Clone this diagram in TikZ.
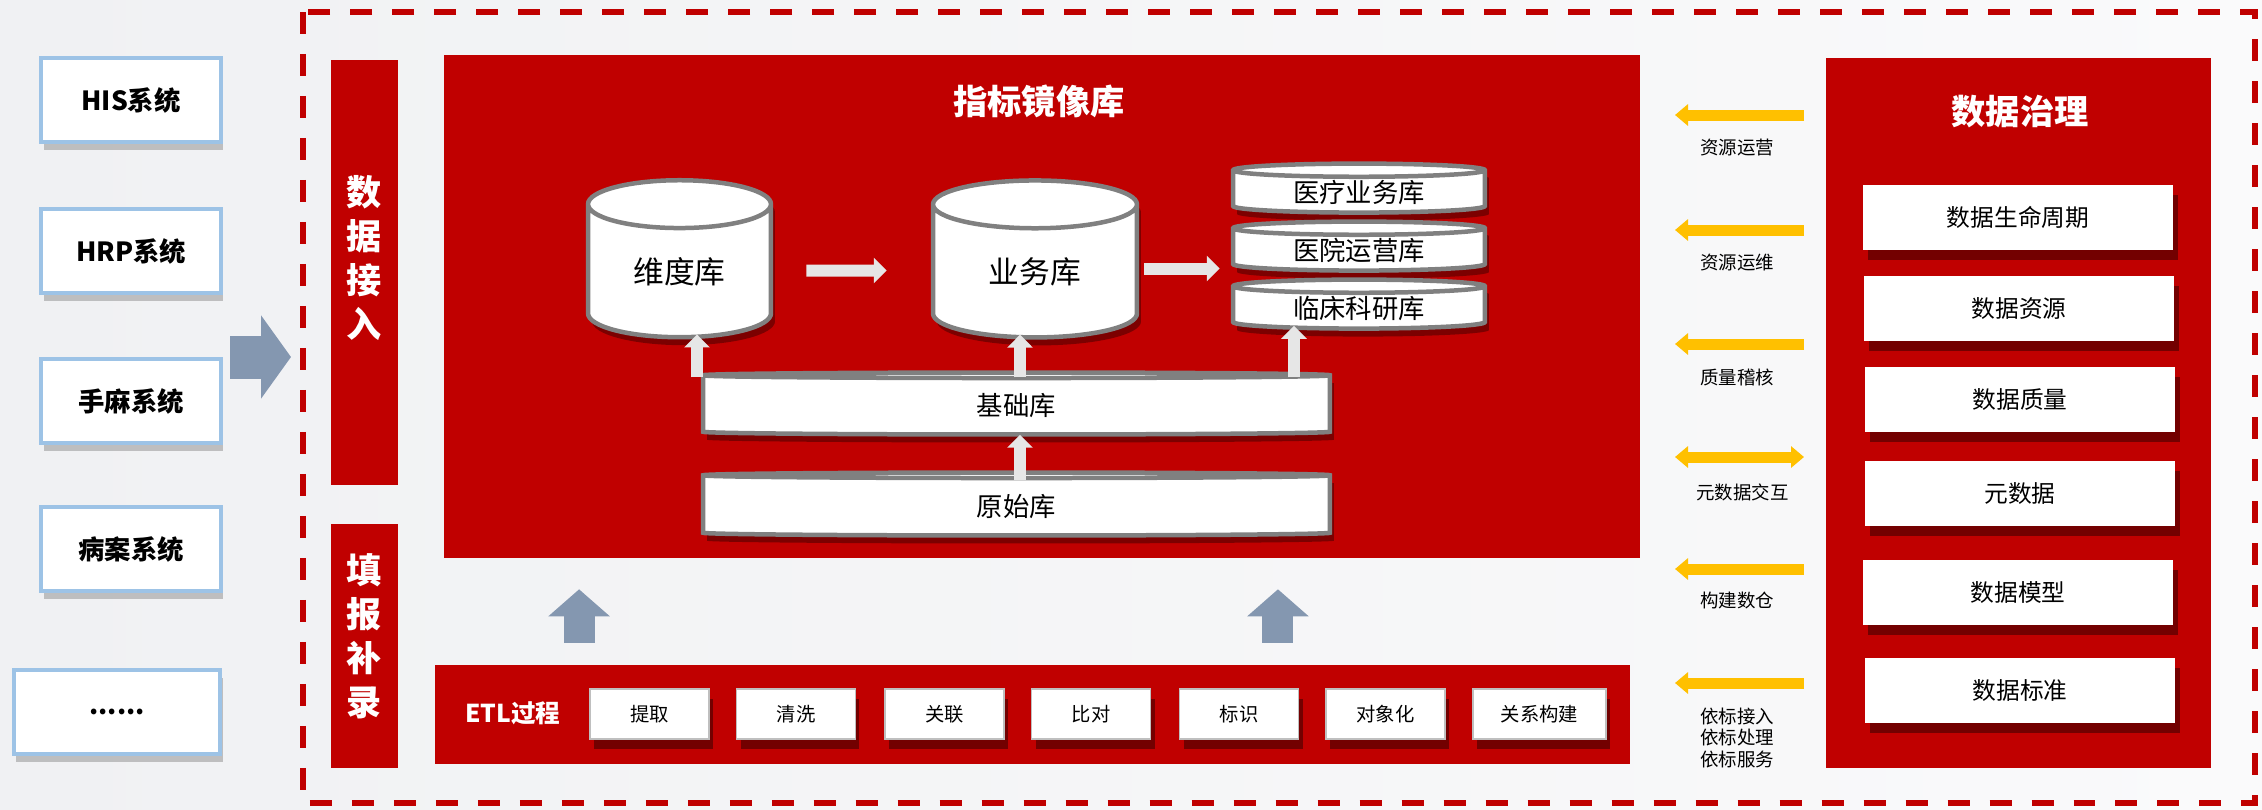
\documentclass[tikz,border=0pt]{standalone}
\usepackage{fontspec}
\setmainfont{Noto Sans CJK SC}
\usetikzlibrary{arrows.meta,shapes.geometric,shadows}

\definecolor{zred}{HTML}{C00000}
\definecolor{srcblue}{HTML}{9DC3E6}
\definecolor{slate}{HTML}{8497B0}
\definecolor{paleg}{HTML}{E6E6E6}
\definecolor{rimg}{HTML}{808080}
\definecolor{zyellow}{HTML}{FFC000}
\definecolor{bgleft}{HTML}{F0F1F3}
\definecolor{bgright}{HTML}{FAFAFB}

\tikzset{
  srcbox/.style={draw=srcblue,line width=0.08cm,fill=white,minimum width=3.6cm,minimum height=1.68cm,
    font=\fontsize{15pt}{18pt}\selectfont\bfseries,
    drop shadow={shadow xshift=0.05cm,shadow yshift=-0.16cm,fill=black!45,opacity=0.5}},
  redpanel/.style={fill=zred},
  vtext/.style={text=white,align=center,font=\fontsize{20pt}{25pt}\selectfont\bfseries},
  paneltitle/.style={text=white,font=\fontsize{19.5pt}{22pt}\selectfont\bfseries},
  cyl/.style={shape=cylinder,shape border rotate=90,aspect=0.46,draw=rimg,line width=0.09cm,fill=white,
    font=\fontsize{17.5pt}{20pt}\selectfont,
    drop shadow={shadow xshift=0.08cm,shadow yshift=-0.16cm,fill=black,opacity=0.35}},
  disk/.style={shape=cylinder,shape border rotate=90,draw=rimg,line width=0.09cm,fill=white,
    font=\fontsize{15pt}{18pt}\selectfont,inner sep=0pt,
    drop shadow={shadow xshift=0.08cm,shadow yshift=-0.16cm,fill=black,opacity=0.35}},
  govbox/.style={fill=white,minimum width=6.2cm,minimum height=1.3cm,
    font=\fontsize{13.5pt}{16pt}\selectfont,
    drop shadow={shadow xshift=0.1cm,shadow yshift=-0.2cm,fill=black,opacity=0.4}},
  stepbox/.style={fill=white,draw=black!25,line width=0.03cm,minimum width=2.38cm,minimum height=1.0cm,
    font=\fontsize{11pt}{12pt}\selectfont,
    drop shadow={shadow xshift=0.08cm,shadow yshift=-0.2cm,fill=black,opacity=0.4}},
  tag/.style={anchor=west,align=left,font=\fontsize{10.5pt}{12.5pt}\selectfont},
  lightarrow/.style={draw=paleg,line width=0.24cm,-{Triangle[width=0.5cm,length=0.26cm]}},
  bigarrow/.style={draw=slate,line width=0.86cm,-{Triangle[width=1.64cm,length=0.6cm]}},
  uparrow/.style={draw=slate,line width=0.62cm,-{Triangle[width=1.2cm,length=0.54cm]}},
  yarrow/.style={draw=zyellow,line width=0.22cm,-{Triangle[width=0.42cm,length=0.26cm]}}
}

\begin{document}
\begin{tikzpicture}[x=0.02cm,y=-0.02cm]
  \useasboundingbox (0,0) rectangle (2262,809);
  \fill[left color=bgleft,right color=bgright] (0,0) rectangle (2262,809);

  % source systems
  \node[srcbox] (his) at (131,100) {HIS系统};
  \node[srcbox] (hrp) at (131,251) {HRP系统};
  \node[srcbox] (ssm) at (131,401) {手麻系统};
  \node[srcbox] (bas) at (131,549) {病案系统};
  \node[srcbox,minimum width=4.14cm] (etc) at (117,712) {......};

  \coordinate (ina) at (230,357);
  \coordinate (inb) at (291,357);
  \draw[bigarrow] (ina) -- (inb);

  % dashed frame
  \draw[zred,line width=0.12cm,dash pattern=on 0.44cm off 0.4cm] (303,12) rectangle (2255,803);

  \node[redpanel,minimum width=1.34cm,minimum height=8.5cm] (jieru) at (364.5,272.5) {};
  \node[vtext] (jieruT) at (364.5,258) {数\\据\\接\\入};
  \node[redpanel,minimum width=1.34cm,minimum height=4.88cm] (tianbao) at (364.5,646) {};
  \node[vtext] (tianbaoT) at (364.5,636) {填\\报\\补\\录};

  % mirror store
  \node[redpanel,minimum width=23.92cm,minimum height=10.06cm] (mirror) at (1042,306.5) {};
  \node[paneltitle] (mtitle) at (1039,101) {指标镜像库};

  \node[cyl,minimum width=3.66cm,minimum height=3.14cm] (dim) at (679.5,276) {\raisebox{0.2cm}{维度库}};
  \node[cyl,minimum width=4.08cm,minimum height=3.14cm] (biz) at (1035,276) {\raisebox{0.2cm}{业务库}};

  \node[disk,aspect=0.1,minimum width=5.04cm,minimum height=0.98cm] (st1) at (1359,192.5) {医疗业务库};
  \node[disk,aspect=0.1,minimum width=5.04cm,minimum height=0.98cm] (st2) at (1359,250.5) {医院运营库};
  \node[disk,aspect=0.1,minimum width=5.04cm,minimum height=0.98cm] (st3) at (1359,308.5) {临床科研库};

  \node[disk,aspect=0.07,minimum width=12.54cm,minimum height=1.24cm] (base) at (1016.5,406) {基础库};
  \node[disk,aspect=0.07,minimum width=12.54cm,minimum height=1.26cm] (raw) at (1016.5,506.5) {原始库};

  \draw[lightarrow,shorten <=0.66cm,shorten >=0.88cm] ([yshift=0.11cm]dim.east) -- ([yshift=0.11cm]biz.west);
  \draw[lightarrow,shorten <=0.1cm,shorten >=0.22cm] ([yshift=0.15cm]biz.east) -- ([yshift=0.15cm]biz.east -| st2.west);

  \draw[lightarrow,shorten <=-0.14cm,shorten >=-0.1cm] ([xshift=0.35cm]dim.south |- base.north) -- ([xshift=0.35cm]dim.south);
  \draw[lightarrow,shorten <=-0.14cm,shorten >=-0.1cm] ([xshift=-0.3cm]biz.south |- base.north) -- ([xshift=-0.3cm]biz.south);
  \draw[lightarrow,shorten <=-0.14cm,shorten >=-0.1cm] ([xshift=-1.3cm]st3.south |- base.north) -- ([xshift=-1.3cm]st3.south);
  \draw[lightarrow,shorten <=-0.2cm,shorten >=-0.04cm] ([xshift=0.07cm]raw.north) -- ([xshift=0.07cm]raw.north |- base.south);

  % ETL
  \node[redpanel,minimum width=23.9cm,minimum height=1.98cm] (etl) at (1032.5,714.5) {};
  \node[text=white,font=\fontsize{14pt}{16pt}\selectfont\bfseries] (etlname) at (513,713) {ETL过程};
  \node[stepbox] (s1) at (649.5,714) {提取};
  \node[stepbox] (s2) at (796,714) {清洗};
  \node[stepbox] (s3) at (944.5,714) {关联};
  \node[stepbox] (s4) at (1091,714) {比对};
  \node[stepbox] (s5) at (1239,714) {标识};
  \node[stepbox] (s6) at (1385.5,714) {对象化};
  \node[stepbox,minimum width=2.66cm] (s7) at (1539.5,714) {关系构建};

  \draw[uparrow,shorten <=0.44cm,shorten >=0.62cm] ([xshift=-9.07cm]etl.north) -- ([xshift=-9.07cm]etl.north |- mirror.south);
  \draw[uparrow,shorten <=0.44cm,shorten >=0.62cm] ([xshift=4.91cm]etl.north) -- ([xshift=4.91cm]etl.north |- mirror.south);

  % governance
  \node[redpanel,minimum width=7.7cm,minimum height=14.2cm] (gov) at (2018.5,413) {};
  \node[paneltitle] (gtitle) at (2020,112) {数据治理};
  \node[govbox] (g1) at (2018,217.5) {数据生命周期};
  \node[govbox] (g2) at (2019,308.5) {数据资源};
  \node[govbox] (g3) at (2020,399.5) {数据质量};
  \node[govbox] (g4) at (2020,493) {元数据};
  \node[govbox] (g5) at (2018,592.5) {数据模型};
  \node[govbox] (g6) at (2020,690.5) {数据标准};

  \coordinate (ya1) at (1804,115); \coordinate (yb1) at (1675,115);
  \coordinate (ya2) at (1804,230); \coordinate (yb2) at (1675,230);
  \coordinate (ya3) at (1804,344); \coordinate (yb3) at (1675,344);
  \coordinate (ya4) at (1804,457); \coordinate (yb4) at (1675,457);
  \coordinate (ya5) at (1804,569); \coordinate (yb5) at (1675,569);
  \coordinate (ya6) at (1804,683); \coordinate (yb6) at (1675,683);
  \draw[yarrow] (ya1) -- (yb1);
  \draw[yarrow] (ya2) -- (yb2);
  \draw[yarrow] (ya3) -- (yb3);
  \draw[yarrow,{Triangle[width=0.42cm,length=0.26cm]}-{Triangle[width=0.42cm,length=0.26cm]}] (ya4) -- (yb4);
  \draw[yarrow] (ya5) -- (yb5);
  \draw[yarrow] (ya6) -- (yb6);

  \node[tag] (t1) at (1694,148) {资源运营};
  \node[tag] (t2) at (1694,263) {资源运维};
  \node[tag] (t3) at (1694,377) {质量稽核};
  \node[tag] (t4) at (1690,492) {元数据交互};
  \node[tag] (t5) at (1694,600) {构建数仓};
  \node[tag] (t6) at (1694,738) {依标接入\\依标处理\\依标服务};
\end{tikzpicture}
\end{document}
